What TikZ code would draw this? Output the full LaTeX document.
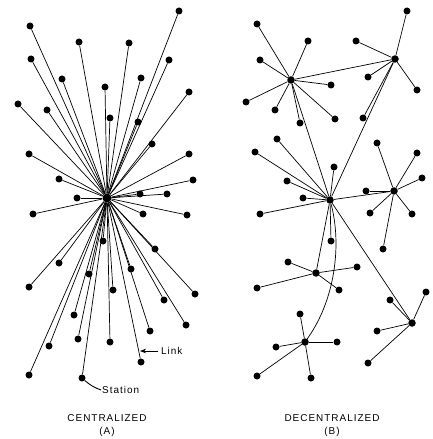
\documentclass[tikz,border=0pt]{standalone}
\usepackage{fontspec}
\newfontfamily\lblfont{Liberation Sans}[LetterSpace=10]
\usetikzlibrary{arrows.meta}
\tikzset{
  station/.style={circle,fill=black,inner sep=0pt,minimum size=7bp},
  hub/.style={circle,fill=black,inner sep=0pt,minimum size=7.5bp},
  link/.style={line width=.7bp},
  lbl/.style={font=\lblfont\fontsize{10}{12}\selectfont,inner sep=0pt}
}
\begin{document}
\begin{tikzpicture}[x=1bp,y=-1bp,>=Stealth]
 \useasboundingbox (0,0) rectangle (432,439);
 % centralized
 \begin{scope}
  \node[hub,minimum size=9bp] (c) at (107,198) {};
  \foreach \p [count=\i] in {(179,11),(30,26),(79,42),(129,43),(31,59),(169,60),
     (62,79),(141,78),(105,87),(189,92),(18,104),(47,110),(110,118),(138,122),
     (152,144),(29,154),(189,154),(59,179),(193,180),(140,194),(167,194),(77,198),
     (33,214),(143,214),(187,215),(103,241),(155,249),(59,263),(89,274),(131,269),
     (29,287),(113,290),(195,294),(164,300),(74,315),(186,325),(150,331),(78,339),
     (110,342),(49,346),(141,362),(29,375),(82,378)}
   {\node[station] (a\i) at \p {};
    \draw[link] (c) -- (a\i);}
  \node[lbl,anchor=west] (linklbl) at (161,351) {Link};
  \coordinate (linktip) at (140,351);
  \draw[link,->] (linklbl.west) ++(-3,0) -- (linktip);
  \node[lbl,anchor=west] (stlbl) at (102,390) {Station};
  \draw[line width=.9bp] (a43) to[bend right=10] ([xshift=-1]stlbl.west);
  \node[lbl] (ttla) at (107,418) {CENTRALIZED};
  \node[lbl] at (107,432) {(A)};
 \end{scope}
 % decentralized
 \begin{scope}
  \node[hub] (h1) at (291,80) {};
  \node[hub] (h2) at (395,59) {};
  \node[hub] (h3) at (330,200) {};
  \node[hub] (h4) at (394,191) {};
  \node[hub] (h5) at (316,273) {};
  \node[hub] (h6) at (412,323) {};
  \node[hub] (h7) at (305,342) {};
  \foreach \p [count=\i] in {(257,24),(308,41),(260,60),(331,85),(246,102),
     (275,110),(300,123),(335,119)}
   {\node[station] (b1\i) at \p {}; \draw[link] (h1) -- (b1\i);}
  \foreach \p [count=\i] in {(407,11),(356,41),(368,77),(417,90),(363,118)}
   {\node[station] (b2\i) at \p {}; \draw[link] (h2) -- (b2\i);}
  \foreach \p [count=\i] in {(277,139),(255,152),(334,167),(287,181),(303,198),
     (260,214),(331,241)}
   {\node[station] (b3\i) at \p {}; \draw[link] (h3) -- (b3\i);}
  \foreach \p [count=\i] in {(377,143),(417,153),(422,178),(366,191),(370,213),
     (412,214),(383,249)}
   {\node[station] (b4\i) at \p {}; \draw[link] (h4) -- (b4\i);}
  \foreach \p [count=\i] in {(288,262),(257,288),(357,267),(339,290)}
   {\node[station] (b5\i) at \p {}; \draw[link] (h5) -- (b5\i);}
  \foreach \p [count=\i] in {(426,292),(390,300),(377,331),(368,363)}
   {\node[station] (b6\i) at \p {}; \draw[link] (h6) -- (b6\i);}
  \foreach \p [count=\i] in {(300,314),(276,347),(337,342),(257,376),(311,378)}
   {\node[station] (b7\i) at \p {}; \draw[link] (h7) -- (b7\i);}
  \draw[link] (h1) -- (h2);
  \draw[link] (h1) -- (h3);
  \draw[link] (h2) -- (h3);
  \draw[link] (h3) -- (h4);
  \draw[link] (h3) -- (h5);
  \draw[link] (h3) -- (h6);
  \draw[link] (h3) .. controls (342,245) and (335,300) .. (h7);
  \node[lbl] (ttlb) at (332,418) {DECENTRALIZED};
  \node[lbl] at (332,432) {(B)};
 \end{scope}
\end{tikzpicture}
\end{document}
